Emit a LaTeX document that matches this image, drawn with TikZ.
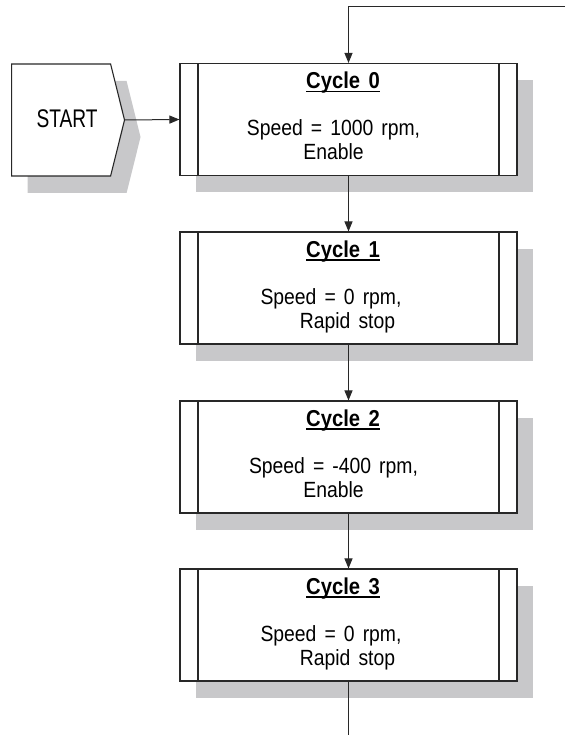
\documentclass[tikz,border=0pt]{standalone}
\usepackage{fontspec}
\setmainfont{Liberation Sans}[FakeStretch=0.88,WordSpace=1.5]
\newfontfamily\startfont{Liberation Sans}[FakeStretch=0.75]
\usetikzlibrary{arrows.meta,shapes.symbols,shadows}
\definecolor{shadowgray}{RGB}{200,200,202}
\definecolor{linegray}{RGB}{40,40,40}
% bold title with a rule just under the baseline
\newcommand\cyclehead[1]{\setbox0\hbox{#1}\rlap{\rule[-3.2pt]{\wd0}{1.3pt}}\box0}

\begin{document}
\begin{tikzpicture}[x=1pt,y=-1pt,>={Triangle[length=10pt,width=8pt]},
  every node/.style={inner sep=0pt},
  boxshadow/.style={drop shadow={shadow xshift=16pt,shadow yshift=-17pt,fill=shadowgray,opacity=1}},
  cyclebox/.style={draw=linegray,line width=1.1pt,fill=white,boxshadow,
    minimum width=337pt,minimum height=112pt,
    path picture={
      \draw[linegray,line width=1.1pt] ([xshift=18pt]path picture bounding box.north west) -- ([xshift=18pt]path picture bounding box.south west);
      \draw[linegray,line width=1.1pt] ([xshift=-18pt]path picture bounding box.north east) -- ([xshift=-18pt]path picture bounding box.south east);}},
  startbox/.style={signal,signal to=east,signal pointer angle=152,draw=linegray,line width=1.1pt,fill=white,boxshadow,
    minimum width=113pt,minimum height=112pt,font=\startfont\fontsize{25.5}{28}\selectfont},
  titletext/.style={font=\fontsize{23}{26}\selectfont\bfseries,anchor=base},
  bodytext/.style={font=\fontsize{22}{24}\selectfont,align=center,anchor=base},
  link/.style={->,draw=linegray,line width=1pt}]
 \useasboundingbox (0,0) rectangle (565,735);

 % start and the four cycles
 \node[startbox,anchor=west] (start) at (11,120) {\hspace*{12pt}START\rule[-3pt]{0pt}{1pt}};
 \node[cyclebox] (c0) at (348.5,119.5) {};
 \node[cyclebox] (c1) at (348.5,288)   {};
 \node[cyclebox] (c2) at (348.5,457)   {};
 \node[cyclebox] (c3) at (348.5,625)   {};

 \node[titletext] (t0) at ([xshift=-5.5pt,yshift=-26pt]c0.north) {\cyclehead{Cycle 0}};
 \node[titletext] (t1) at ([xshift=-5.5pt,yshift=-26pt]c1.north) {\cyclehead{Cycle 1}};
 \node[titletext] (t2) at ([xshift=-5.5pt,yshift=-26pt]c2.north) {\cyclehead{Cycle 2}};
 \node[titletext] (t3) at ([xshift=-5.5pt,yshift=-26pt]c3.north) {\cyclehead{Cycle 3}};

 % base is the second line
 \node[bodytext] (s0) at ([xshift=-15pt,yshift=-97pt]c0.north)   {Speed = 1000 rpm,\\ Enable};
 \node[bodytext] (s1) at ([xshift=-17.5pt,yshift=-97pt]c1.north) {Speed = 0 rpm,\\ \hspace*{33pt}Rapid stop};
 \node[bodytext] (s2) at ([xshift=-15pt,yshift=-97pt]c2.north)   {Speed = -400 rpm,\\ Enable};
 \node[bodytext] (s3) at ([xshift=-17.5pt,yshift=-97pt]c3.north) {Speed = 0 rpm,\\ \hspace*{33pt}Rapid stop};

 % connectors
 \coordinate (back) at (565,7);
 \coordinate (next) at (348.5,735);
 \draw[link] (back) -| (c0.north);
 \draw[link] (start.east) -- (c0.west);
 \draw[link] (c0) -- (c1);
 \draw[link] (c1) -- (c2);
 \draw[link] (c2) -- (c3);
 \draw[linegray,line width=1pt] (c3.south) -- (next);
\end{tikzpicture}
\end{document}
